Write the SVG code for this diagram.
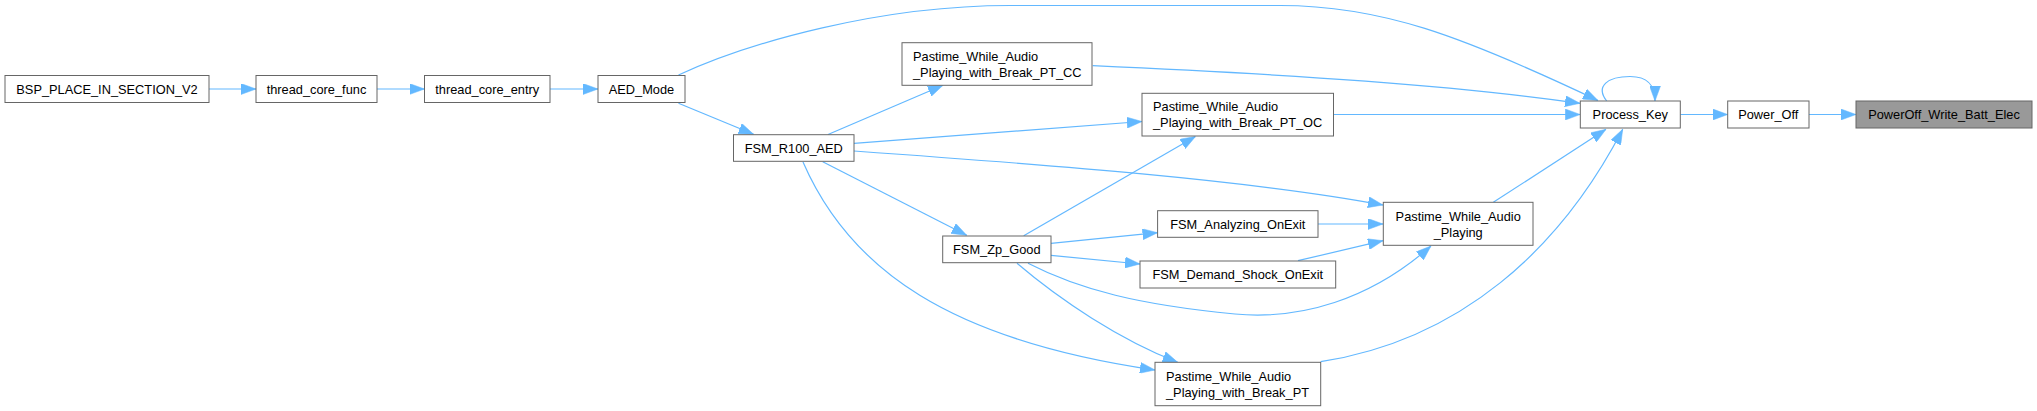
<svg xmlns="http://www.w3.org/2000/svg" width="2037" height="411" viewBox="0 0 2037 411">
<defs>
<style>
.n rect{fill:#ffffff;stroke:#666666;stroke-width:1}
.n.hl rect{fill:#999999}
.n text{font-family:"Liberation Sans",Arial,Helvetica,sans-serif;font-size:12.8px;fill:#000000}
.c{text-anchor:middle}
.e path{fill:none;stroke:#63b8ff;stroke-width:1.2;marker-end:url(#ah)}
</style>
<marker id="ah" markerUnits="userSpaceOnUse" markerWidth="15" markerHeight="11" refX="15" refY="5.5" orient="auto" viewBox="0 0 15 11">
<path d="M0,0 L15,5.5 L0,11 Z" fill="#63b8ff" stroke="#63b8ff" stroke-width="0.5"/>
</marker>
</defs>
<rect width="2037" height="411" fill="#ffffff"/>
<g id="edges" class="e">
<path d="M209,89 L256,89"/>
<path d="M377,89 L424.5,89"/>
<path d="M550,89 L598,89"/>
<path d="M678.5,103.3 L753.6,134.3"/>
<path d="M678.5,75 C 750,42 880,5.5 1010,5.5 L 1280,5.5 C 1380,5.5 1460,35 1598,100.5"/>
<path d="M828,134.5 L943,85.3"/>
<path d="M854,143.3 L1142,121.5"/>
<path d="M854,151 C 1050,165 1250,180 1383,205"/>
<path d="M822.7,161.7 L966.7,235.3"/>
<path d="M803,162 C 850,270 950,340 1155,370"/>
<path d="M1023.7,235.7 L1195.5,136.5"/>
<path d="M1051,243.3 L1157.6,232.7"/>
<path d="M1051,255.3 L1140,264"/>
<path d="M1028,263.3 C 1080,290 1140,305 1235,314 C 1300,320 1370,300 1431,246"/>
<path d="M1017,263.3 C 1060,300 1120,340 1177.7,362.3"/>
<path d="M1318,224 L1383,224"/>
<path d="M1298,260.7 L1383,240.7"/>
<path d="M1493.3,202.3 L1606,129.3"/>
<path d="M1320.7,361.7 C 1460,340 1560,250 1622.7,129.3"/>
<path d="M1092.7,65.7 C 1300,75 1450,85 1580,103.3"/>
<path d="M1333.5,114.5 L1580.3,114.5"/>
<path d="M1606.7,101 C 1595,86 1608,76.5 1630,76.5 C 1648,76.5 1655,85 1655,101"/>
<path d="M1680.3,114.5 L1727.7,114.5"/>
<path d="M1809,114.5 L1856,114.5"/>
</g>
<g id="n_bsp" class="n"><rect x="5" y="75.5" width="204" height="27"/><text class="c" x="107" y="93.5">BSP_PLACE_IN_SECTION_V2</text></g>
<g id="n_thread_core_func" class="n"><rect x="256" y="75.5" width="121" height="27"/><text class="c" x="316.5" y="93.5">thread_core_func</text></g>
<g id="n_thread_core_entry" class="n"><rect x="424.5" y="75.5" width="125.5" height="27"/><text class="c" x="487.25" y="93.5">thread_core_entry</text></g>
<g id="n_aed_mode" class="n"><rect x="598" y="75.5" width="87" height="27"/><text class="c" x="641.5" y="93.5">AED_Mode</text></g>
<g id="n_fsm_r100_aed" class="n"><rect x="733.5" y="134.7" width="120.5" height="26.6"/><text class="c" x="793.75" y="152.5">FSM_R100_AED</text></g>
<g id="n_pt_cc" class="n"><rect x="902" y="42.7" width="190" height="42.6"/><text x="913" y="60.7">Pastime_While_Audio</text><text x="913" y="76.7">_Playing_with_Break_PT_CC</text></g>
<g id="n_pt_oc" class="n"><rect x="1142" y="93.3" width="191.5" height="42.7"/><text x="1153" y="111">Pastime_While_Audio</text><text x="1153" y="127">_Playing_with_Break_PT_OC</text></g>
<g id="n_fsm_zp_good" class="n"><rect x="942.7" y="236" width="108.3" height="26.7"/><text class="c" x="996.8" y="253.8">FSM_Zp_Good</text></g>
<g id="n_fsm_analyzing" class="n"><rect x="1157.6" y="210.7" width="160.4" height="26.6"/><text class="c" x="1237.8" y="228.5">FSM_Analyzing_OnExit</text></g>
<g id="n_fsm_demand" class="n"><rect x="1140" y="261" width="195.7" height="27"/><text class="c" x="1237.8" y="279">FSM_Demand_Shock_OnExit</text></g>
<g id="n_pt" class="n"><rect x="1155" y="362.3" width="165.7" height="43.4"/><text x="1166" y="380.5">Pastime_While_Audio</text><text x="1166" y="396.5">_Playing_with_Break_PT</text></g>
<g id="n_pwap" class="n"><rect x="1383.3" y="202.3" width="149.7" height="43"/><text class="c" x="1458.2" y="220.5">Pastime_While_Audio</text><text class="c" x="1458.2" y="236.5">_Playing</text></g>
<g id="n_process_key" class="n"><rect x="1580.3" y="101" width="100" height="27"/><text class="c" x="1630.3" y="119">Process_Key</text></g>
<g id="n_power_off" class="n"><rect x="1727.7" y="101" width="81.3" height="27"/><text class="c" x="1768.3" y="119">Power_Off</text></g>
<g id="n_poweroff_write" class="n hl"><rect x="1856" y="101" width="176" height="27"/><text class="c" x="1944" y="119">PowerOff_Write_Batt_Elec</text></g>
</svg>
